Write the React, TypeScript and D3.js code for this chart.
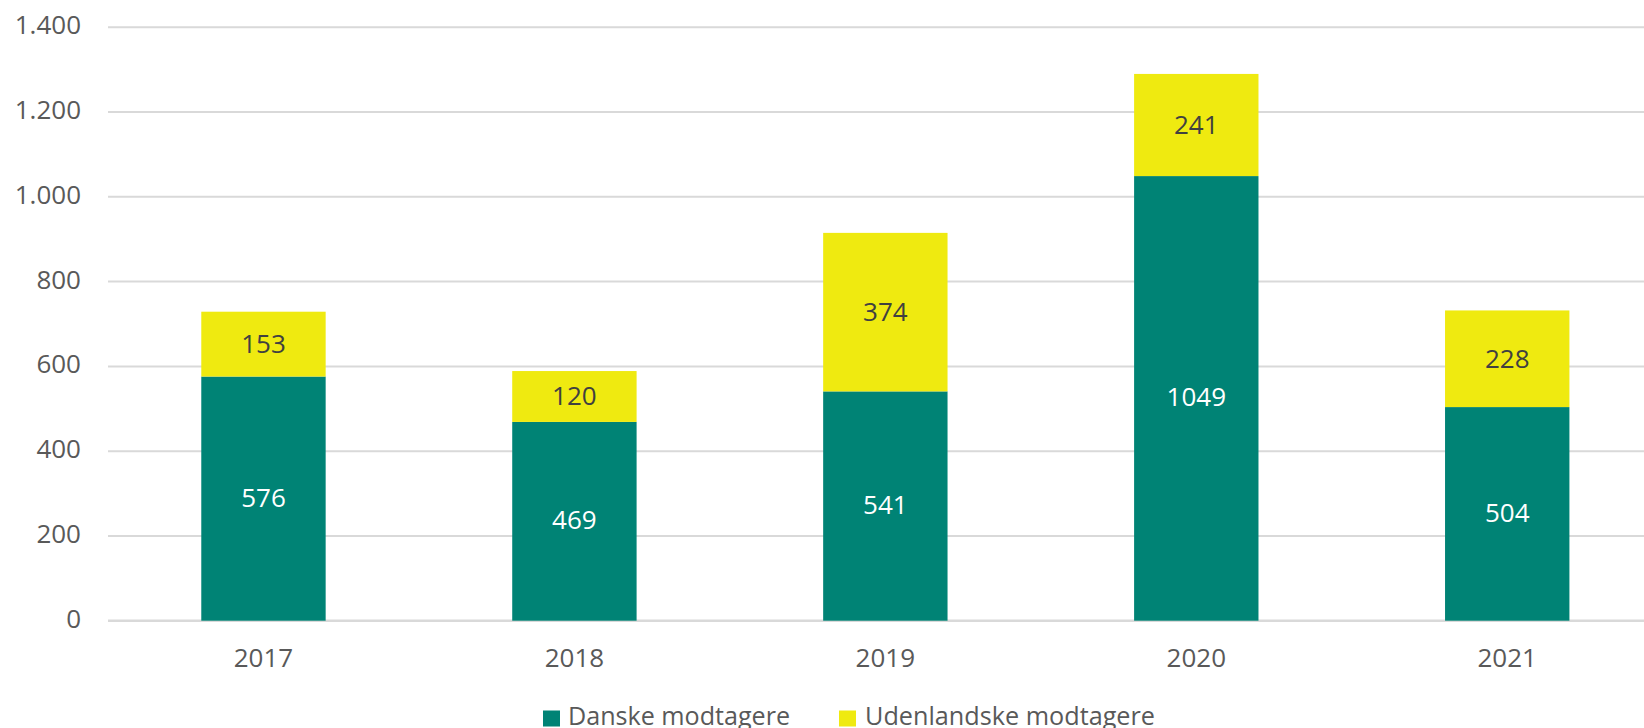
import * as d3 from 'd3';
import React, { useRef, useEffect } from 'react';

const years = ['2017', '2018', '2019', '2020', '2021'];
const danske = [576, 469, 541, 1049, 504];
const udenlandske = [153, 120, 374, 241, 228];
const yTicks = [0, 200, 400, 600, 800, 1000, 1200, 1400];
const seriesNames = ['Danske modtagere', 'Udenlandske modtagere'];

const W = 1644;
const H = 728;
const TEAL = '#008375';
const YELLOW = '#EFEA10';
const FONT = '"Open Sans", sans-serif';

export default function App() {
    const ref = useRef<SVGSVGElement>(null);

    useEffect(() => {
        const svg = d3.select(ref.current);
        svg.selectAll('*').remove();

        const x = d3.scaleBand().domain(years).range([108, 1662.7]).paddingInner(0.6).paddingOuter(0.3);
        const y = d3.scaleLinear().domain([0, 1400]).range([620.7, 27.3]);

        // gridlines
        svg.append('g')
            .selectAll('line')
            .data(yTicks)
            .enter()
            .append('line')
            .attr('x1', 108)
            .attr('x2', W)
            .attr('y1', (d) => y(d))
            .attr('y2', (d) => y(d))
            .attr('stroke', '#D9D9D9')
            .attr('stroke-width', (d) => (d === 0 ? 2.5 : 2));

        svg.append('g')
            .selectAll('text')
            .data(yTicks)
            .enter()
            .append('text')
            .attr('x', 81)
            .attr('y', (d) => y(d) + 7)
            .attr('text-anchor', 'end')
            .attr('font-family', FONT)
            .attr('font-size', 26)
            .attr('fill', '#595959')
            .text((d) => d3.format(',')(d).replace(/,/g, '.'));

        const stack = years.map((yr, i) => ({ yr, d: danske[i], u: udenlandske[i] }));

        const bars = svg.append('g');
        bars.selectAll('rect.d')
            .data(stack)
            .enter()
            .append('rect')
            .attr('x', (s) => x(s.yr)!)
            .attr('width', x.bandwidth())
            .attr('y', (s) => y(s.d))
            .attr('height', (s) => y(0) - y(s.d))
            .attr('fill', TEAL);
        bars.selectAll('rect.u')
            .data(stack)
            .enter()
            .append('rect')
            .attr('x', (s) => x(s.yr)!)
            .attr('width', x.bandwidth())
            .attr('y', (s) => y(s.d + s.u))
            .attr('height', (s) => y(s.d) - y(s.d + s.u))
            .attr('fill', YELLOW);

        // data labels
        bars.selectAll('text.d')
            .data(stack)
            .enter()
            .append('text')
            .attr('x', (s) => x(s.yr)! + x.bandwidth() / 2)
            .attr('y', (s) => (y(0) + y(s.d)) / 2 + 8)
            .attr('text-anchor', 'middle')
            .attr('font-family', FONT)
            .attr('font-size', 26)
            .attr('fill', '#ffffff')
            .text((s) => s.d);
        bars.selectAll('text.u')
            .data(stack)
            .enter()
            .append('text')
            .attr('x', (s) => x(s.yr)! + x.bandwidth() / 2)
            .attr('y', (s) => (y(s.d) + y(s.d + s.u)) / 2 + 9)
            .attr('text-anchor', 'middle')
            .attr('font-family', FONT)
            .attr('font-size', 26)
            .attr('fill', '#404040')
            .text((s) => s.u);

        // x labels
        svg.append('g')
            .selectAll('text')
            .data(years)
            .enter()
            .append('text')
            .attr('x', (d) => x(d)! + x.bandwidth() / 2)
            .attr('y', 666.5)
            .attr('text-anchor', 'middle')
            .attr('font-family', FONT)
            .attr('font-size', 26)
            .attr('fill', '#595959')
            .text((d) => d);

        // legend (cut off at the bottom edge, as in the original)
        const legend = [
            { name: seriesNames[0], color: TEAL, x: 543, tx: 568, tw: 222 },
            { name: seriesNames[1], color: YELLOW, x: 839, tx: 865, tw: 290 },
        ];
        const lg = svg.append('g');
        lg.selectAll('rect')
            .data(legend)
            .enter()
            .append('rect')
            .attr('x', (d) => d.x)
            .attr('y', 710.5)
            .attr('width', 17)
            .attr('height', 16)
            .attr('fill', (d) => d.color);
        lg.selectAll('text')
            .data(legend)
            .enter()
            .append('text')
            .attr('x', (d) => d.tx)
            .attr('y', 725)
            .attr('font-family', FONT)
            .attr('font-size', 26)
            .attr('fill', '#595959')
            .attr('textLength', (d) => d.tw)
            .attr('lengthAdjust', 'spacingAndGlyphs')
            .text((d) => d.name);
    }, []);

    return (
        <svg
            ref={ref}
            width={W}
            height={H}
            style={{ position: 'absolute', left: 0, top: 0, background: '#fff', display: 'block' }}
        />
    );
}
